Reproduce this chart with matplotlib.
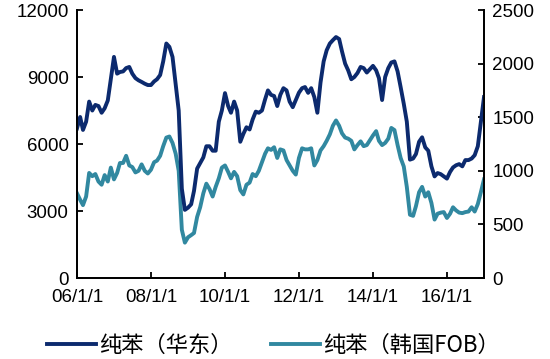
import matplotlib
matplotlib.use('Agg')
import matplotlib.pyplot as plt
import pandas as pd

# monthly values, Jan 2006 .. Jan 2017
months = pd.date_range('2006-01-01', periods=133, freq='MS')

huadong = [6700, 7210, 6630, 7000, 7900, 7500, 7750, 7700, 7400, 7600,
           7950, 8900, 9900, 9150, 9225, 9250, 9400, 9450, 9150, 8950,
           8850, 8780, 8700, 8640, 8640, 8800, 8900, 9090, 9700, 10500,
           10350, 9900, 8700, 7500, 4000, 3050, 3150, 3300, 3900, 4900,
           5150, 5400, 5900, 5900, 5700, 5700, 7000, 7500, 8280, 7700,
           7400, 7900, 7500, 6100, 6450, 6750, 6650, 7100, 7450, 7400,
           7500, 8000, 8400, 8200, 8150, 7700, 8200, 8500, 8400, 7900,
           7650, 7970, 8300, 8500, 8550, 8290, 8500, 8100, 7400, 8750,
           9700, 10200, 10500, 10650, 10790, 10700, 10150, 9600, 9300, 8900,
           9000, 9180, 9450, 9400, 9200, 9350, 9500, 9300, 8950, 7970,
           9000, 9400, 9650, 9700, 9250, 8550, 7800, 7000, 5300, 5350,
           5550, 6100, 6300, 5850, 5700, 5000, 4550, 4700, 4650, 4550,
           4450, 4750, 4950, 5050, 5100, 5000, 5280, 5280, 5350, 5500,
           5900, 7000, 8100]

korea_fob = [790, 730, 680, 760, 980, 950, 970, 900, 870, 960,
             900, 1030, 920, 980, 1073, 1073, 1140, 1050, 1035, 985,
             1000, 1060, 1000, 975, 1010, 1080, 1095, 1140, 1230, 1310,
             1320, 1260, 1160, 1000, 450, 330, 380, 400, 420, 570,
             660, 790, 880, 830, 760, 850, 930, 1030, 1050, 990,
             930, 990, 950, 820, 780, 870, 890, 970, 950, 1000,
             1080, 1160, 1210, 1195, 1220, 1120, 1200, 1190, 1100, 1050,
             1000, 965, 1120, 1210, 1200, 1200, 1210, 1050, 1100, 1190,
             1230, 1280, 1340, 1420, 1470, 1420, 1350, 1310, 1300, 1280,
             1200, 1240, 1275, 1230, 1240, 1285, 1330, 1370, 1280, 1240,
             1260, 1300, 1400, 1380, 1240, 1120, 1040, 850, 590, 580,
             670, 800, 850, 760, 800, 700, 545, 600, 610, 615,
             560, 600, 660, 630, 610, 605, 615, 620, 660, 620,
             690, 800, 920]

tick_dates = pd.to_datetime(['2006-01-01', '2008-01-01', '2010-01-01',
                             '2012-01-01', '2014-01-01', '2016-01-01'])
tick_labels = ['06/1/1', '08/1/1', '10/1/1', '12/1/1', '14/1/1', '16/1/1']
labels = ['纯苯（华东）', '纯苯（韩国FOB）']

plt.rcParams['font.family'] = ['Liberation Sans', 'Noto Sans CJK SC']

fig = plt.figure(figsize=(5.5, 3.59), dpi=100)
ax = fig.add_axes([0.14, 0.2256, 0.74, 0.7465])
ax2 = ax.twinx()

l1, = ax.plot(months, huadong, color='#0c2a6e', lw=2.8)
l2, = ax2.plot(months, korea_fob, color='#3188a0', lw=2.8)
ax.set_zorder(ax2.get_zorder() + 1)
ax.patch.set_visible(False)

ax.set_ylim(0, 12000)
ax.set_yticks([0, 3000, 6000, 9000, 12000])
ax2.set_ylim(0, 2500)
ax2.set_yticks([0, 500, 1000, 1500, 2000, 2500])
ax.set_xlim(pd.Timestamp('2006-01-01'), pd.Timestamp('2017-01-01'))
ax.set_xticks(tick_dates)
ax.set_xticklabels(tick_labels)

for a in (ax, ax2):
    a.spines['top'].set_visible(False)
    for s in ('left', 'right', 'bottom'):
        a.spines[s].set_linewidth(1.3)
    a.tick_params(direction='in', length=4, width=1.3, labelsize=13.5, pad=6)
ax.tick_params(axis='x', pad=8)

fig.legend([l1, l2], labels, loc='lower center', bbox_to_anchor=(0.497, -0.05),
           ncol=2, frameon=False, handlelength=2.2, columnspacing=1.7,
           handletextpad=0.15, prop={'family': ['Noto Sans CJK SC'], 'size': 16})

fig.savefig('out.png', dpi=100)
